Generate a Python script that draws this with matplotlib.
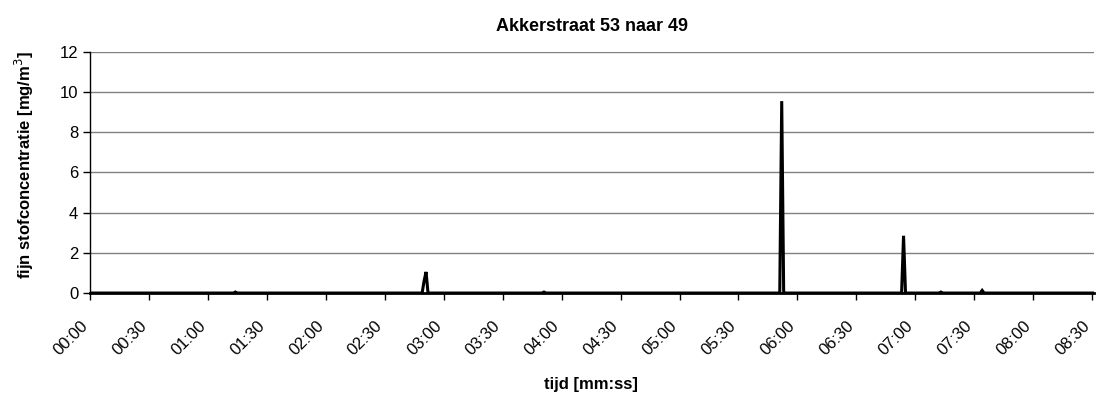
import numpy as np
import matplotlib.pyplot as plt
import matplotlib.transforms as mtransforms

plt.rcParams['font.family'] = ['Liberation Sans', 'DejaVu Sans']

# meetpunten (seconden vanaf start) en fijnstofconcentratie [mg/m3]
tijd_s = [0, 73, 74, 75, 169, 170, 171, 172, 230, 231, 232,
          351, 352, 353, 354, 413, 414, 415, 416, 432, 433, 434,
          453, 454, 455, 511]
concentratie = [0.0, 0.0, 0.05, 0.0, 0.0, 0.6, 1.05, 0.0, 0.0, 0.05, 0.0,
                0.0, 9.55, 0.0, 0.0, 0.0, 2.85, 0.0, 0.0, 0.0, 0.05, 0.0,
                0.0, 0.13, 0.0, 0.0]

tick_s = list(range(0, 511, 30))
tick_labels = ['%02d:%02d' % (s // 60, s % 60) for s in tick_s]

fig = plt.figure(figsize=(10.98, 3.96), dpi=100)
ax = fig.add_axes([0.082, 0.26, 0.9145, 0.609])

ax.plot(tijd_s, concentratie, color='black', lw=2.2, solid_joinstyle='miter')

ax.set_xlim(0, 511)
ax.set_ylim(0, 12)
ax.set_yticks(np.arange(0, 13, 2))
ax.set_xticks(tick_s)
ax.set_xticklabels(tick_labels, rotation=45, ha='right', va='top',
                   rotation_mode='anchor')
ax.tick_params(axis='both', labelsize=12, direction='out', length=5,
               color='black', width=1)
ax.tick_params(axis='x', pad=6)

# labels iets naar links/onder schuiven zoals in Excel
verschuiving = mtransforms.ScaledTranslation(-10 / 100, -10 / 100, fig.dpi_scale_trans)
for lbl in ax.get_xticklabels():
    lbl.set_transform(lbl.get_transform() + verschuiving)

ax.yaxis.grid(True, color='#808080', lw=1)
ax.set_axisbelow(True)
for side in ['top', 'right']:
    ax.spines[side].set_visible(False)
ax.spines['left'].set_linewidth(1)
ax.spines['bottom'].set_linewidth(2)

ax.set_title('Akkerstraat 53 naar 49', fontsize=13, fontweight='bold', pad=15)
fig.text(0.538, 0.03, 'tijd [mm:ss]', fontsize=12, fontweight='bold',
         ha='center', va='center')
fig.text(0.022, 0.583, 'fijn stofconcentratie [mg/m$^3$]', fontsize=12,
         fontweight='bold', ha='center', va='center', rotation=90)

fig.savefig('out.png', dpi=100)
